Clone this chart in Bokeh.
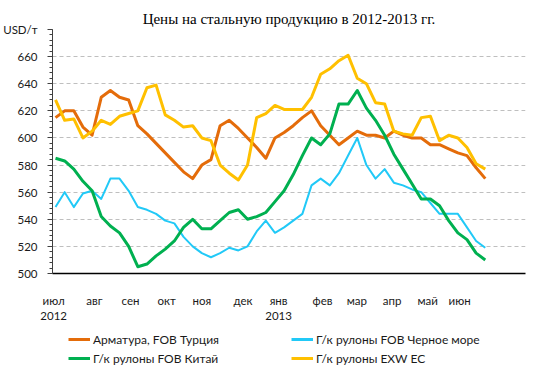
from bokeh.plotting import figure
from bokeh.layouts import column
from bokeh.models import (ColumnDataSource, Range1d, FixedTicker, Legend, LegendItem)
from bokeh.embed import file_html
from bokeh.resources import INLINE

# ---------------- data ----------------
weeks = list(range(48))

rebar_turkey = [615, 620, 620, 608, 602, 630, 635, 630, 628, 609, 603, 596, 589, 582, 575, 570,
                580, 584, 609, 613, 607, 600, 593, 585, 600, 604, 609, 615, 620, 609, 602, 595,
                600, 605, 602, 602, 600, 605, 602, 600, 600, 595, 595, 592, 589, 587, 578, 570]

hrc_black_sea = [549, 560, 549, 559, 561, 555, 570, 570, 561, 549, 547, 544, 539, 537, 527, 520,
                 515, 512, 515, 519, 517, 520, 531, 539, 530, 534, 539, 544, 565, 570, 565, 574,
                 587, 600, 580, 570, 577, 567, 565, 562, 560, 552, 544, 544, 544, 534, 524, 519]

hrc_china = [585, 583, 577, 568, 561, 542, 535, 530, 520, 505, 507, 513, 518, 524, 534, 540,
             533, 533, 539, 545, 547, 540, 542, 545, 553, 561, 573, 587, 600, 595, 603, 625,
             625, 635, 622, 613, 602, 588, 577, 566, 555, 555, 550, 539, 530, 525, 515, 510]

hrc_exw_eu = [628, 613, 614, 600, 605, 613, 610, 616, 618, 620, 637, 639, 617, 613, 608, 609,
              600, 598, 580, 574, 569, 580, 615, 618, 624, 621, 621, 621, 630, 647, 651, 657,
              661, 644, 640, 626, 625, 605, 603, 602, 615, 616, 598, 602, 600, 593, 581, 577]

series_names = ["Арматура, FOB Турция", "Г/к рулоны FOB Черное море",
                "Г/к рулоны FOB Китай", "Г/к рулоны EXW ЕС"]
series_colors = ["#E46C0A", "#21C9F7", "#00B050", "#FFC000"]
series_widths = [3, 2, 3, 3]

month_ticks = [-0.2, 4.25, 8.2, 12.15, 16.0, 20.5, 24.4, 29.2, 32.95, 36.8, 40.7, 44.2]
month_labels = ["июл\n2012", "авг", "сен", "окт", "ноя", "дек", "янв\n2013",
                "фев", "мар", "апр", "май", "июн"]

y_ticks = [500, 520, 540, 560, 580, 600, 620, 640, 660, 680]
unit_label = "USD/т"
title_text = "Цены на стальную продукцию в 2012-2013 гг."

FONT = "Lato"
src = ColumnDataSource(dict(x=weeks, a=rebar_turkey, b=hrc_black_sea, c=hrc_china, d=hrc_exw_eu))
keys = ["a", "b", "c", "d"]

# ---------------- main chart ----------------
p = figure(width=550, height=328, output_backend="svg", toolbar_location=None,
           x_range=Range1d(-0.33, 51.4), y_range=Range1d(500, 680),
           min_border_left=52, min_border_right=25, min_border_top=29, min_border_bottom=55)
p.background_fill_color = "white"
p.border_fill_color = "white"
p.outline_line_color = None

p.title.text = title_text
p.title.align = "center"
p.title.offset = -10
p.title.text_font = "Liberation Serif"
p.title.text_font_size = "15px"
p.title.text_font_style = "normal"
p.title.text_color = "#000000"
p.title.standoff = 5

ya = p.yaxis[0]
ya.ticker = FixedTicker(ticks=y_ticks, minor_ticks=[v for v in range(500, 681, 4)])
ya.major_label_overrides = {680: unit_label}
ya.major_label_text_font = FONT
ya.major_label_text_font_size = "11.5px"
ya.major_label_text_color = "#1a1a1a"
ya.major_tick_out = 5
ya.major_tick_in = 0
ya.minor_tick_out = 3
ya.minor_tick_in = 0
ya.axis_line_color = "#404040"
ya.major_tick_line_color = "#404040"
ya.minor_tick_line_color = "#404040"
ya.major_label_standoff = 10

xa = p.xaxis[0]
xa.ticker = FixedTicker(ticks=month_ticks)
xa.major_label_overrides = {t: l for t, l in zip(month_ticks, month_labels)}
xa.major_label_text_font = FONT
xa.major_label_text_font_size = "11.5px"
xa.major_label_text_color = "#1a1a1a"
xa.major_tick_out = 0
xa.major_tick_in = 0
xa.minor_tick_line_color = None
xa.axis_line_color = "#000000"
xa.axis_line_width = 1.5
xa.major_label_standoff = 20

p.xgrid.visible = False
p.ygrid.ticker = FixedTicker(ticks=[520, 540, 560, 580, 600, 620, 640, 660])
p.ygrid.grid_line_color = "#BFBFBF"
p.ygrid.grid_line_dash = "4 3"
p.ygrid.grid_line_width = 1

for key, col, w in zip(keys, series_colors, series_widths):
    p.line("x", key, source=src, line_color=col, line_width=w, line_join="round")

# ---------------- legend strip ----------------
q = figure(width=550, height=47, output_backend="svg", toolbar_location=None,
           x_range=Range1d(0, 1), y_range=Range1d(0, 1),
           x_axis_location=None, y_axis_location=None,
           min_border_left=0, min_border_right=0, min_border_top=0, min_border_bottom=0)
q.outline_line_color = None
q.xgrid.visible = False
q.ygrid.visible = False
q.background_fill_color = "white"
q.border_fill_color = "white"

rends = []
for key, col, w in zip(keys, series_colors, series_widths):
    rends.append(q.line("x", key, source=src, line_color=col, line_width=3))

items = [LegendItem(label=n, renderers=[r]) for n, r in zip(series_names, rends)]
lg = Legend(items=items, location=(16, 9), orientation="horizontal", ncols=2)
lg.border_line_alpha = 0
lg.background_fill_alpha = 0
lg.padding = 0
lg.margin = 0
lg.spacing = 3
lg.glyph_width = 22
lg.glyph_height = 16
lg.label_height = 16
lg.label_width = 195
lg.label_standoff = 3
lg.label_text_font = FONT
lg.label_text_font_size = "12px"
lg.label_text_color = "#1a1a1a"
q.add_layout(lg, "center")

layout = column(p, q, spacing=0)
open("out.html", "w").write(file_html(layout, INLINE))
